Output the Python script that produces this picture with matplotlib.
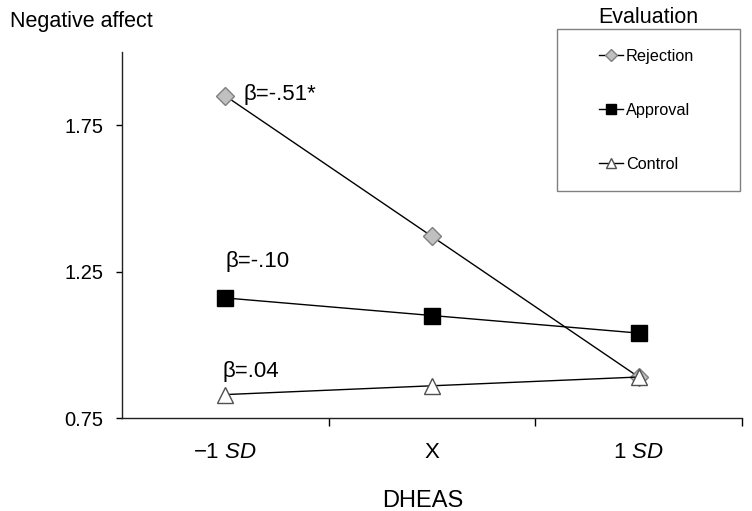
import matplotlib
matplotlib.use("Agg")
import matplotlib.pyplot as plt
from matplotlib.lines import Line2D
from matplotlib.patches import Rectangle
from matplotlib.transforms import blended_transform_factory

plt.rcParams['font.family'] = ['Liberation Sans', 'DejaVu Sans']
plt.rcParams['mathtext.fontset'] = 'custom'
plt.rcParams['mathtext.rm'] = 'Liberation Sans'
plt.rcParams['mathtext.it'] = 'Liberation Sans:italic'

# data
levels = ['\u22121 $\\it{SD}$', 'X', '1 $\\it{SD}$']
rejection = [1.85, 1.37, 0.89]
approval = [1.16, 1.10, 1.04]
control = [0.83, 0.86, 0.89]
betas = ['β=-.51*', 'β=-.10', 'β=.04']
beta_pos = [(0.09, 1.835), (0.0, 1.265), (-0.015, 0.89)]

fig = plt.figure(figsize=(7.52, 5.11), dpi=100)
ax = fig.add_axes([122 / 752, 1 - 418 / 511, 620 / 752, 366 / 511])

x = range(len(levels))
ax.plot(x, rejection, color='black', lw=1, marker='D', markersize=9,
        markerfacecolor='#c0c0c0', markeredgecolor='#808080', label='Rejection', zorder=3)
ax.plot(x, approval, color='black', lw=1, marker='s', markersize=11,
        markerfacecolor='black', markeredgecolor='black', label='Approval', zorder=3)
ax.plot(x, control, color='black', lw=1, marker='^', markersize=12,
        markerfacecolor='white', markeredgecolor='#505050', label='Control', zorder=3)

# beta labels
for txt, (bx, by) in zip(betas, beta_pos):
    ax.text(bx, by, txt, fontsize=16, ha='left', va='baseline')

ax.set_xlim(-0.5, 2.5)
ax.set_ylim(0.75, 2.0)
ax.set_yticks([0.75, 1.25, 1.75])
ax.set_yticklabels(['0.75', '1.25', '1.75'], fontsize=14.5)
ax.set_xticks([0.5, 1.5, 2.5])
ax.set_xticklabels([])
ax.tick_params(axis='x', direction='out', length=6, width=1)
ax.tick_params(axis='y', direction='out', length=4.5, width=1, pad=9)

# category labels sit centred on the points, between the tick marks
lab_tr = blended_transform_factory(ax.transData, fig.transFigure)
for i, lab in enumerate(levels):
    ax.text(i, 1 - 458 / 511, lab, transform=lab_tr,
            fontsize=16, ha='center', va='baseline')

for s in ['top', 'right']:
    ax.spines[s].set_visible(False)
for s in ['left', 'bottom']:
    ax.spines[s].set_linewidth(1)
    ax.spines[s].set_color('#202020')

fig.text(10 / 752, 1 - 27 / 511, 'Negative affect', fontsize=15.5, ha='left', va='baseline')
fig.text(423 / 752, 1 - 507 / 511, 'DHEAS', fontsize=17, ha='center', va='baseline')

# legend
handles = [
    Line2D([], [], color='black', lw=1, marker='D', markersize=6,
           markerfacecolor='#c0c0c0', markeredgecolor='#808080'),
    Line2D([], [], color='black', lw=1, marker='s', markersize=7,
           markerfacecolor='black', markeredgecolor='black'),
    Line2D([], [], color='black', lw=1, marker='^', markersize=7,
           markerfacecolor='white', markeredgecolor='#505050'),
]
leg = fig.legend(handles, ['Rejection', 'Approval', 'Control'],
                 loc='center left', bbox_to_anchor=(599 / 752, 1 - 110 / 511),
                 bbox_transform=fig.transFigure, fontsize=11.7, frameon=False,
                 handlelength=1.5, handletextpad=0.15, labelspacing=2.4,
                 borderpad=0, borderaxespad=0)
fig.patches.append(Rectangle((557 / 752, 1 - 191 / 511), 183 / 752, 162 / 511,
                             transform=fig.transFigure, fill=False,
                             edgecolor='#808080', lw=1))
fig.text(648 / 752, 1 - 23 / 511, 'Evaluation', fontsize=15.5, ha='center', va='baseline')

fig.savefig('out.png', dpi=100)
